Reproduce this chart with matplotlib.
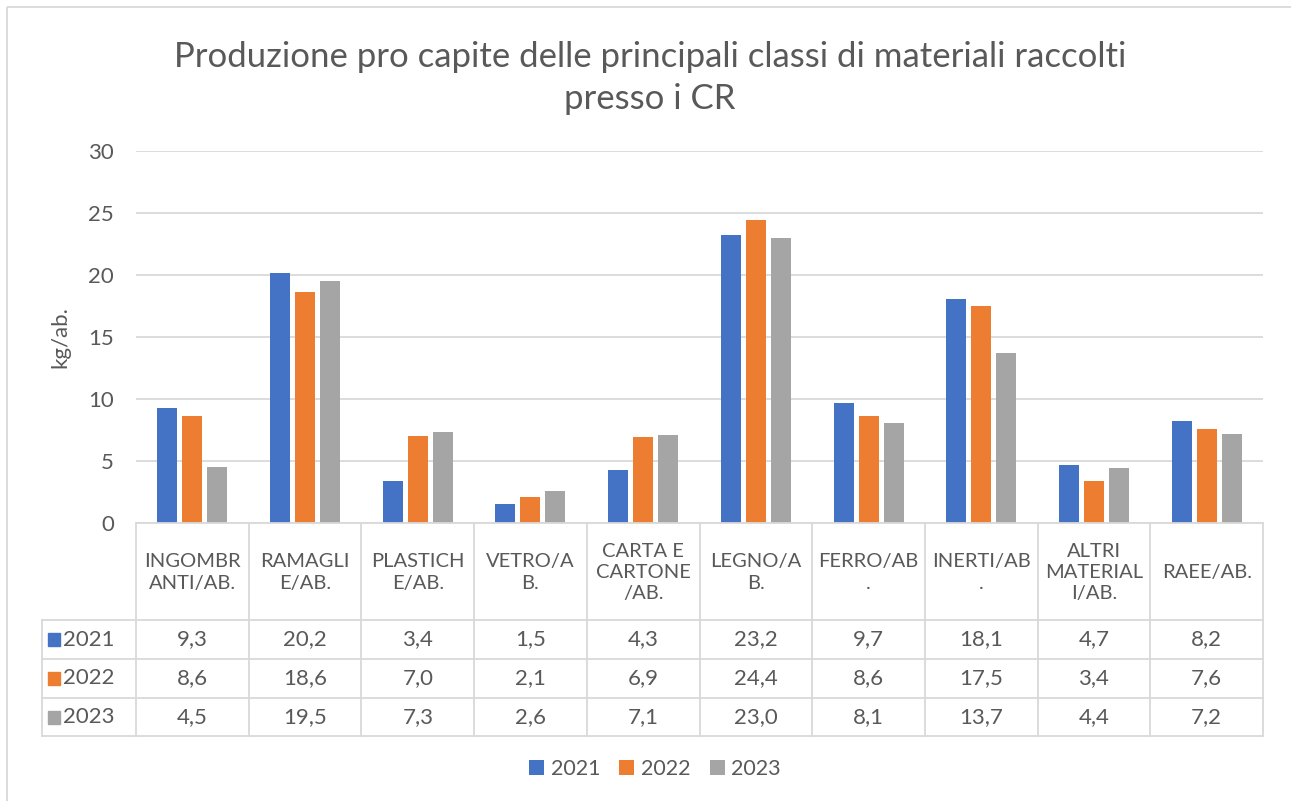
import numpy as np
import matplotlib
matplotlib.use('Agg')
import matplotlib.pyplot as plt
from matplotlib.patches import Rectangle

plt.rcParams['font.family'] = ['Lato', 'DejaVu Sans']

# Data
categories = ['INGOMBR\nANTI/AB.', 'RAMAGLI\nE/AB.', 'PLASTICH\nE/AB.', 'VETRO/A\nB.',
              'CARTA E\nCARTONE\n/AB.', 'LEGNO/A\nB.', 'FERRO/AB\n.', 'INERTI/AB\n.',
              'ALTRI\nMATERIAL\nI/AB.', 'RAEE/AB.']
years = ['2021', '2022', '2023']
v2021 = [9.3, 20.2, 3.4, 1.5, 4.3, 23.2, 9.7, 18.1, 4.7, 8.2]
v2022 = [8.6, 18.6, 7.0, 2.1, 6.9, 24.4, 8.6, 17.5, 3.4, 7.6]
v2023 = [4.5, 19.5, 7.3, 2.6, 7.1, 23.0, 8.1, 13.7, 4.4, 7.2]
series = [v2021, v2022, v2023]
colors = ['#4472C4', '#ED7D31', '#A5A5A5']

W, H = 1291, 801
txt = '#595959'
grid = '#D9D9D9'

fig = plt.figure(figsize=(W / 100, H / 100), dpi=100)

# plot area in pixels
px_l, px_r, px_t, px_b = 136, 1263, 151, 523
ax = fig.add_axes([px_l / W, 1 - px_b / H, (px_r - px_l) / W, (px_b - px_t) / H])

x = np.arange(len(categories))
bw = 0.1775
offs = [-0.222, 0, 0.222]
bars = []
for vals, c, o, y in zip(series, colors, offs, years):
    bars.append(ax.bar(x + o, vals, bw, color=c, label=y, zorder=3))

ax.set_xlim(-0.5, len(categories) - 0.5)
ax.set_ylim(0, 30)
ax.set_yticks(range(0, 31, 5))
ax.yaxis.grid(True, color=grid, lw=1.3)
ax.set_axisbelow(True)
ax.set_xticks([])
for s in ax.spines.values():
    s.set_visible(False)
ax.tick_params(axis='y', length=0, labelsize=16, colors=txt, pad=16)
ax.set_ylabel('kg/ab.', fontsize=16, color=txt, labelpad=13)

# overlay axes in pixel coords for the data table and the frame
ov = fig.add_axes([0, 0, 1, 1], zorder=5)
ov.set_xlim(0, W)
ov.set_ylim(H, 0)
ov.axis('off')
ov.patch.set_alpha(0)

ov.add_patch(Rectangle((7, 7), W + 20, H + 20, fill=False, ec=grid, lw=1.3))

cw = (px_r - px_l) / len(categories)
row_y = [523, 620, 659, 698, 736]
lab_l = 42

lk = dict(color=grid, lw=1.3)
# horizontal lines
ov.plot([px_l, px_r], [row_y[0], row_y[0]], **lk)
for yy in row_y[1:]:
    ov.plot([lab_l, px_r], [yy, yy], **lk)
# vertical lines
ov.plot([lab_l, lab_l], [row_y[1], row_y[-1]], **lk)
for i in range(len(categories) + 1):
    xx = px_l + i * cw
    ov.plot([xx, xx], [row_y[0], row_y[-1]], **lk)

# header labels
for i, c in enumerate(categories):
    ov.text(px_l + (i + 0.5) * cw, (row_y[0] + row_y[1]) / 2 + 1, c, ha='center', va='center',
            fontsize=14.5, color=txt, linespacing=1.3)

# value rows
for r, (vals, col, y) in enumerate(zip(series, colors, years)):
    yc = (row_y[r + 1] + row_y[r + 2]) / 2
    ov.add_patch(Rectangle((48, yc - 6.5), 12, 13, color=col))
    ov.text(63, yc, y, ha='left', va='center', fontsize=16, color=txt)
    for i, v in enumerate(vals):
        ov.text(px_l + (i + 0.5) * cw, yc, f'{v:.1f}'.replace('.', ','), ha='center', va='center',
                fontsize=16, color=txt)

fig.text(650 / W, 1 - 78 / H,
         'Produzione pro capite delle principali classi di materiali raccolti\npresso i CR',
         ha='center', va='center', fontsize=25, color=txt, linespacing=1.35)

fig.legend(handles=bars, labels=years, loc='center', bbox_to_anchor=(655 / W, 1 - 769 / H),
           ncol=3, frameon=False, fontsize=15.5, labelcolor=txt, handlelength=0.7,
           handleheight=0.7, handletextpad=0.3, columnspacing=0.9)

fig.savefig('out.png', dpi=100, facecolor='white')
